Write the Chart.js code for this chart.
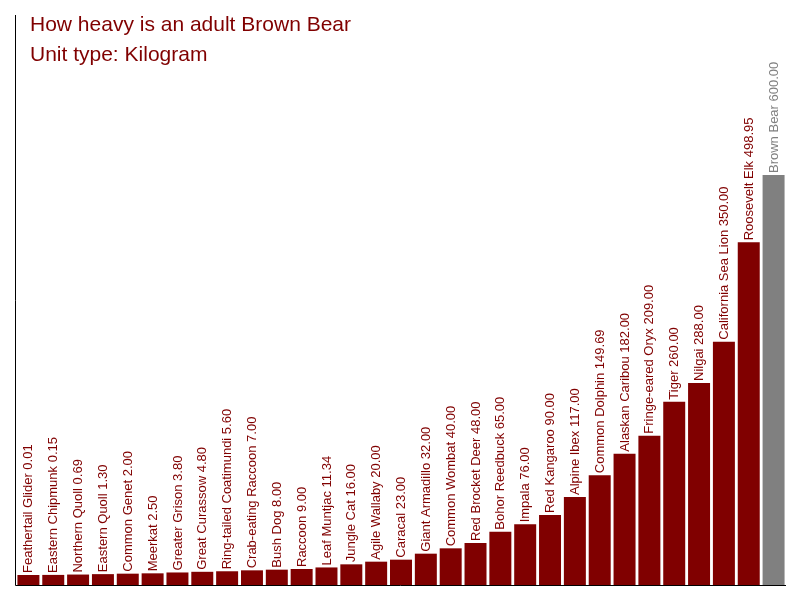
<!DOCTYPE html>
<html lang="en">
<head>
<meta charset="UTF-8">
<title>How heavy is an adult Brown Bear</title>
<script src="https://cdn.jsdelivr.net/npm/chart.js"></script>
<style>
  html, body { margin: 0; padding: 0; background: #fff; }
  #wrap { width: 800px; height: 600px; }
</style>
</head>
<body>
<div id="wrap"><canvas id="bearChart" width="800" height="600"></canvas></div>
<script>
const animals = [
  'Feathertail Glider', 'Eastern Chipmunk', 'Northern Quoll', 'Eastern Quoll',
  'Common Genet', 'Meerkat', 'Greater Grison', 'Great Curassow',
  'Ring-tailed Coatimundi', 'Crab-eating Raccoon', 'Bush Dog', 'Raccoon',
  'Leaf Muntjac', 'Jungle Cat', 'Agile Wallaby', 'Caracal', 'Giant Armadillo',
  'Common Wombat', 'Red Brocket Deer', 'Bohor Reedbuck', 'Impala',
  'Red Kangaroo', 'Alpine Ibex', 'Common Dolphin', 'Alaskan Caribou',
  'Fringe-eared Oryx', 'Tiger', 'Nilgai', 'California Sea Lion',
  'Roosevelt Elk', 'Brown Bear'
];
const weights = [
  0.01, 0.15, 0.69, 1.30, 2.00, 2.50, 3.80, 4.80, 5.60, 7.00, 8.00, 9.00,
  11.34, 16.00, 20.00, 23.00, 32.00, 40.00, 48.00, 65.00, 76.00, 90.00,
  117.00, 149.69, 182.00, 209.00, 260.00, 288.00, 350.00, 498.95, 600.00
];
const titleLines = ['How heavy is an adult Brown Bear', 'Unit type: Kilogram'];
const focusAnimal = 'Brown Bear';

const RED = '#800000';
const GRAY = '#808080';
const FONT = 'Arial, "Liberation Sans", sans-serif';
const colors = animals.map(a => a === focusAnimal ? GRAY : RED);

// value axis starts a bit under zero so tiny weights still show a stub
const Y_MIN = -15;

const decorations = {
  id: 'decorations',
  afterDatasetsDraw(chart) {
    const { ctx, chartArea: area } = chart;
    const meta = chart.getDatasetMeta(0);
    ctx.save();
    // labels standing on each bar
    ctx.font = '13px ' + FONT;
    ctx.textAlign = 'left';
    ctx.textBaseline = 'middle';
    meta.data.forEach((bar, i) => {
      ctx.save();
      ctx.translate(bar.x + 0.5, bar.y - 2);
      ctx.rotate(-Math.PI / 2);
      ctx.fillStyle = colors[i];
      ctx.fillText(animals[i] + ' ' + weights[i].toFixed(2), 0, 0);
      ctx.restore();
    });
    // axis lines
    ctx.strokeStyle = '#000';
    ctx.lineWidth = 1;
    ctx.beginPath();
    ctx.moveTo(area.left - 0.5, area.top);
    ctx.lineTo(area.left - 0.5, area.bottom + 0.5);
    ctx.lineTo(area.right, area.bottom + 0.5);
    ctx.stroke();
    // title
    ctx.font = '21px ' + FONT;
    ctx.fillStyle = RED;
    ctx.textBaseline = 'alphabetic';
    titleLines.forEach((t, i) => ctx.fillText(t, 30, 31 + i * 30));
    ctx.restore();
  }
};

new Chart(document.getElementById('bearChart'), {
  type: 'bar',
  data: {
    labels: animals,
    datasets: [{
      data: weights,
      base: Y_MIN,
      backgroundColor: colors,
      borderWidth: 0,
      barPercentage: 0.885,
      categoryPercentage: 1.0
    }]
  },
  options: {
    responsive: false,
    animation: false,
    layout: { padding: { left: 16, right: 14, top: 15, bottom: 15 } },
    plugins: { legend: { display: false }, tooltip: { enabled: false } },
    scales: {
      x: { display: false },
      y: { display: false, min: Y_MIN, max: 840 }
    }
  },
  plugins: [decorations]
});
</script>
</body>
</html>
